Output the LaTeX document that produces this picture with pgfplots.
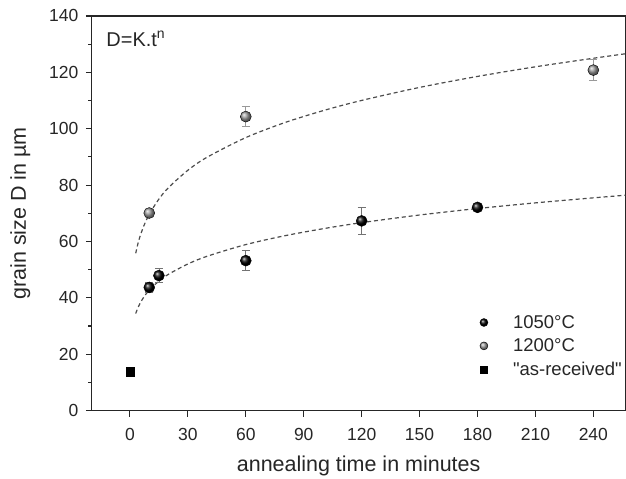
\documentclass[border=0pt]{standalone}
\usepackage{pgfplots}
\pgfplotsset{compat=1.18}
\usepackage{fontspec}
\setmainfont{Liberation Sans}
\begin{document}
\begin{tikzpicture}
\begin{axis}[
  scale only axis,
  width=534pt, height=395pt,
  xmin=-19.7, xmax=256.6,
  ymin=0, ymax=140,
  xtick={0,30,...,240},
  ytick={0,20,...,140},
  minor ytick={10,30,...,130},
  tick align=outside,
  major tick length=6pt,
  minor tick length=3.5pt,
  xtick pos=bottom, ytick pos=left,
  axis line style={line width=1.1pt, black!85},
  tick style={line width=1.1pt, black!85},
  /pgf/number format/assume math mode=true,
  ticklabel style={font=\fontsize{17.5}{20}\selectfont, text=black!85},
  xticklabel style={yshift=-8pt},
  yticklabel style={xshift=-4pt},
  xlabel={annealing time in minutes},
  ylabel={grain size D in µm},
  label style={font=\fontsize{21.5}{24}\selectfont, text=black!85},
  xlabel style={at={(rel axis cs:0.5,0)}, anchor=center, yshift=-55pt},
  ylabel style={yshift=12pt},
  legend style={at={(axis cs:179.5,35.3)}, anchor=north west, draw=none, fill=none,
    font=\fontsize{18.5}{21}\selectfont, row sep=5pt, text=black!85},
  legend cell align=left,
  clip=false,
]
\coordinate (bl) at (rel axis cs:0,0);
\coordinate (tr) at (rel axis cs:1,1);
% fit curves D = K t^n
\addplot[forget plot, black!70, line width=1.2pt, dash pattern=on 4pt off 3pt, smooth] coordinates {
(3,34.45) (4,36.27) (5,37.75) (7,40.09) (10,42.74) (15,45.95) (20,48.38) (30,52.02) (40,54.77) (60,58.90) (80,62.01) (100,64.53) (120,66.68) (150,69.39) (180,71.69) (210,73.70) (240,75.48) (256.6,76.41)};
\addplot[forget plot, black!70, line width=1.2pt, dash pattern=on 4pt off 3pt, smooth] coordinates {
(3,55.82) (4,58.85) (5,61.31) (7,65.23) (10,69.66) (15,75.05) (20,79.13) (30,85.27) (40,89.91) (60,96.86) (80,102.13) (100,106.41) (120,110.04) (150,114.65) (180,118.56) (210,121.97) (240,125.00) (256.6,126.59)};
% 1050 C
\addplot[only marks, mark=ball, mark size=5.5pt, mark options={ball color=black},
  legend image post style={mark size=4pt},
  error bars/.cd, y dir=both, y explicit,
  error bar style={black!55, line width=0.8pt},
  error mark options={rotate=90, mark size=4pt, black!55, line width=0.8pt}]
  coordinates {
  (10,43.7) +- (0,1.8)
  (15,47.9) +- (0,2.5)
  (60,53.2) +- (0,3.5)
  (120,67.3) +- (0,4.7)
  (180,72.1) +- (0,1.0)
};
\addlegendentry{\hspace{23pt}1050°C}
% 1200 C
\addplot[only marks, mark=ball, mark size=5.5pt, mark options={ball color=black!40},
  legend image post style={mark size=4pt},
  error bars/.cd, y dir=both, y explicit,
  error bar style={black!40, line width=0.8pt},
  error mark options={rotate=90, mark size=4pt, black!40, line width=0.8pt}]
  coordinates {
  (10,70.1) +- (0,1.0)
  (60,104.3) +- (0,3.5)
  (240,120.8) +- (0,3.8)
};
\addlegendentry{\hspace{23pt}1200°C}
% as received
\addplot[only marks, mark=square*, mark size=4.2pt, black, legend image post style={mark size=3.5pt}] coordinates {(0,13.8)};
\addlegendentry{\hspace{23pt}\textquotedbl as-received\textquotedbl}
\node[anchor=west, font=\fontsize{20}{22}\selectfont, text=black!85] at (axis cs:-14,131.9) {D=K.t\textsuperscript{n}};
\end{axis}
\pgfresetboundingbox
\path[use as bounding box] ([shift={(-92pt,-68pt)}]bl) rectangle ([shift={(0.6pt,16pt)}]tr);
\end{tikzpicture}
\end{document}
